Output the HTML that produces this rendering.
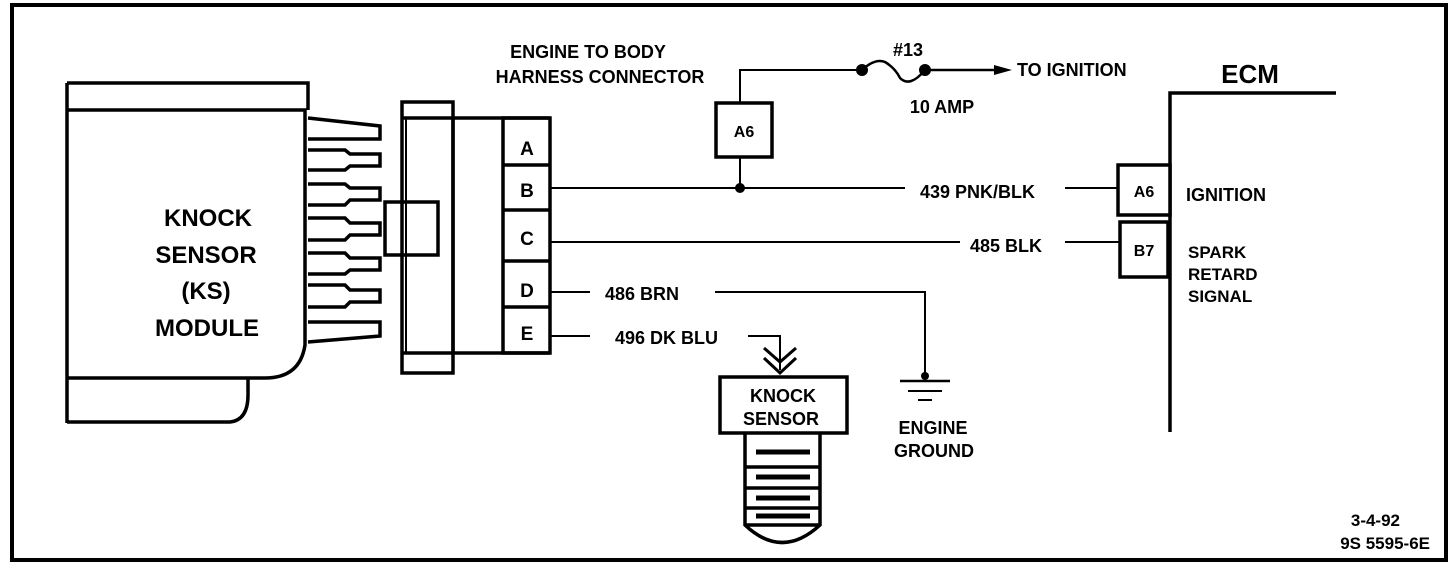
<!DOCTYPE html>
<html><head><meta charset="utf-8"><style>
html,body{margin:0;padding:0;background:#fff;}
svg{display:block;}
text{font-family:"Liberation Sans","DejaVu Sans",sans-serif;font-weight:bold;fill:#000;}
</style></head><body>
<svg width="1456" height="570" viewBox="0 0 1456 570" xmlns="http://www.w3.org/2000/svg">
<g fill="none" stroke="#000" stroke-width="4">
<path d="M12 180 V5 H1446 V560 H12 V180" stroke-width="4"/>
</g>
<g fill="none" stroke="#000" stroke-width="3.5">
<path d="M67 83 H308 V110"/>
<path d="M67 83 V423"/>
<path d="M67 110 H305 V345 Q300 378 265 378 H67"/>
<path d="M67 422 H230 Q248 420 248 395 V378"/>
<path d="M308 118 L380 126 V139 H308"/>
<path d="M308 150 H345 L350 154 H380 V166 H350 L345 170 H308"/>
<path d="M308 184 H345 L350 188 H380 V200 H350 L345 205 H308"/>
<path d="M308 218 H345 L350 223 H380 V235 H350 L345 240 H308"/>
<path d="M308 253 H345 L350 258 H380 V270 H350 L345 274 H308"/>
<path d="M308 285 H345 L350 290 H380 V302 H350 L345 307 H308"/>
<path d="M308 322 H380 V336 L308 342"/>
<rect x="402" y="102" width="51" height="271"/>
<line x1="402" y1="118" x2="550" y2="118"/>
<line x1="402" y1="353" x2="550" y2="353"/>
<line x1="406" y1="118" x2="406" y2="353" stroke-width="2"/>
<rect x="385" y="202" width="53" height="53"/>
<path d="M453 118 V353"/>
<rect x="503" y="118" width="47" height="235"/>
<line x1="503" y1="165" x2="550" y2="165"/>
<line x1="503" y1="210" x2="550" y2="210"/>
<line x1="503" y1="261" x2="550" y2="261"/>
<line x1="503" y1="307" x2="550" y2="307"/>
<rect x="716" y="103" width="56" height="54"/>
<path d="M1170 432 V93 H1336"/>
<rect x="1118" y="165" width="52" height="50" fill="#fff"/>
<rect x="1120" y="222" width="48" height="55" fill="#fff"/>
<rect x="720" y="377" width="127" height="56"/>
<path d="M745 433 V525 Q782 560 820 525 V433"/>
<line x1="745" y1="467" x2="820" y2="467"/>
<line x1="745" y1="488" x2="820" y2="488"/>
<line x1="745" y1="508" x2="820" y2="508"/>
<line x1="745" y1="525" x2="820" y2="525"/>
</g>
<g stroke="#000" stroke-width="5">
<line x1="756" y1="452" x2="810" y2="452"/>
<line x1="756" y1="477" x2="810" y2="477"/>
<line x1="756" y1="498" x2="810" y2="498"/>
<line x1="756" y1="516" x2="810" y2="516"/>
</g>
<g fill="none" stroke="#000" stroke-width="2">
<path d="M550 188 H905"/>
<path d="M1065 188 H1118"/>
<path d="M740 188 V157"/>
<path d="M740 103 V70 H862"/>
<path d="M862 70 Q875 58 885 62 Q895 68 900 78 Q910 88 925 70 H1000" stroke-width="2.5"/>
<path d="M550 242 H960"/>
<path d="M1065 242 H1120"/>
<path d="M550 292 H590"/>
<path d="M715 292 H925 V376"/>
<path d="M550 336 H590"/>
<path d="M748 336 H780 V370"/>
<path d="M764 348 L780 362 L796 348" stroke-width="3"/>
<path d="M764 358 L780 373 L796 358" stroke-width="3"/>
<line x1="900" y1="381" x2="950" y2="381" stroke-width="2.5"/>
<line x1="908" y1="391" x2="942" y2="391"/>
<line x1="918" y1="400" x2="932" y2="400"/>
</g>
<circle cx="740" cy="188" r="5"/>
<circle cx="862" cy="70" r="6"/>
<circle cx="925" cy="70" r="6"/>
<circle cx="925" cy="376" r="4"/>
<path d="M994 65 L1012 70 L994 75 Z"/>
<g font-size="24" text-anchor="middle">
<text x="208" y="226">KNOCK</text>
<text x="206" y="263">SENSOR</text>
<text x="206" y="299">(KS)</text>
<text x="207" y="336">MODULE</text>
</g>
<g font-size="19" text-anchor="middle">
<text x="527" y="155">A</text>
<text x="527" y="197">B</text>
<text x="527" y="245">C</text>
<text x="527" y="297">D</text>
<text x="527" y="340">E</text>
</g>
<g font-size="18">
<text x="588" y="58" text-anchor="middle">ENGINE TO BODY</text>
<text x="600" y="83" text-anchor="middle">HARNESS CONNECTOR</text>
<text x="744" y="137" text-anchor="middle" font-size="16">A6</text>
<text x="908" y="56" text-anchor="middle">#13</text>
<text x="942" y="113" text-anchor="middle">10 AMP</text>
<text x="1017" y="76">TO IGNITION</text>
<text x="1250" y="83" text-anchor="middle" font-size="26">ECM</text>
<text x="920" y="198">439 PNK/BLK</text>
<text x="970" y="252">485 BLK</text>
<text x="605" y="300">486 BRN</text>
<text x="615" y="344">496 DK BLU</text>
<text x="1144" y="197" text-anchor="middle" font-size="16">A6</text>
<text x="1144" y="256" text-anchor="middle" font-size="16">B7</text>
<text x="1186" y="201">IGNITION</text>
<text x="1188" y="258" font-size="17">SPARK</text>
<text x="1188" y="280" font-size="17">RETARD</text>
<text x="1188" y="302" font-size="17">SIGNAL</text>
<text x="783" y="402" text-anchor="middle">KNOCK</text>
<text x="781" y="425" text-anchor="middle">SENSOR</text>
<text x="933" y="434" text-anchor="middle">ENGINE</text>
<text x="934" y="457" text-anchor="middle">GROUND</text>
<text x="1400" y="526" text-anchor="end" font-size="17">3-4-92</text>
<text x="1430" y="549" text-anchor="end" font-size="17">9S 5595-6E</text>
</g>
</svg>
</body></html>
